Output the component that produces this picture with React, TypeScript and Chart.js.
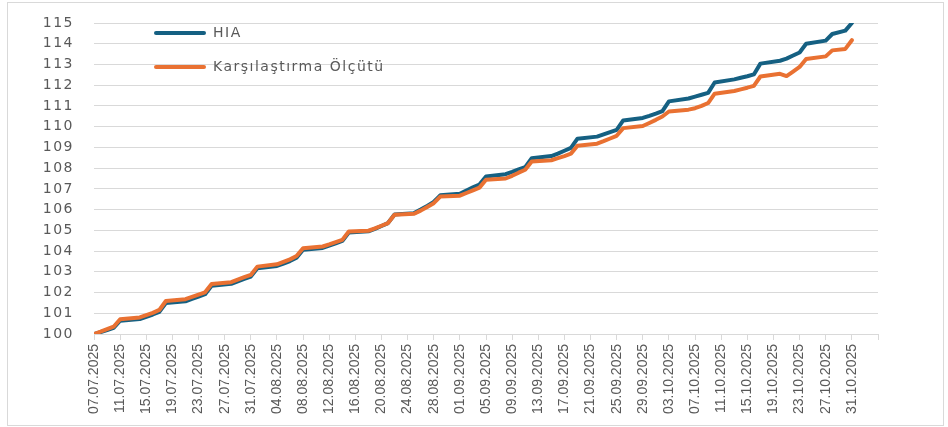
import React, { useEffect, useRef } from 'react';
import { Chart, registerables } from 'chart.js';

Chart.register(...registerables);

const tickLabels = [
  '07.07.2025', '11.07.2025', '15.07.2025', '19.07.2025', '23.07.2025', '27.07.2025',
  '31.07.2025', '04.08.2025', '08.08.2025', '12.08.2025', '16.08.2025', '20.08.2025',
  '24.08.2025', '28.08.2025', '01.09.2025', '05.09.2025', '09.09.2025', '13.09.2025',
  '17.09.2025', '21.09.2025', '25.09.2025', '29.09.2025', '03.10.2025', '07.10.2025',
  '11.10.2025', '15.10.2025', '19.10.2025', '23.10.2025', '27.10.2025', '31.10.2025',
];

const dates = [
  '07.07.2025', '08.07.2025', '09.07.2025', '10.07.2025', '11.07.2025',
  '14.07.2025', '16.07.2025', '17.07.2025', '18.07.2025',
  '21.07.2025', '22.07.2025', '23.07.2025', '24.07.2025', '25.07.2025',
  '28.07.2025', '29.07.2025', '30.07.2025', '31.07.2025', '01.08.2025',
  '04.08.2025', '05.08.2025', '06.08.2025', '07.08.2025', '08.08.2025',
  '11.08.2025', '12.08.2025', '13.08.2025', '14.08.2025', '15.08.2025',
  '18.08.2025', '19.08.2025', '20.08.2025', '21.08.2025', '22.08.2025',
  '25.08.2025', '26.08.2025', '27.08.2025', '28.08.2025', '29.08.2025',
  '01.09.2025', '02.09.2025', '03.09.2025', '04.09.2025', '05.09.2025',
  '08.09.2025', '09.09.2025', '10.09.2025', '11.09.2025', '12.09.2025',
  '15.09.2025', '16.09.2025', '17.09.2025', '18.09.2025', '19.09.2025',
  '22.09.2025', '23.09.2025', '24.09.2025', '25.09.2025', '26.09.2025',
  '29.09.2025', '30.09.2025', '01.10.2025', '02.10.2025', '03.10.2025',
  '06.10.2025', '07.10.2025', '08.10.2025', '09.10.2025', '10.10.2025',
  '13.10.2025', '14.10.2025', '15.10.2025', '16.10.2025', '17.10.2025',
  '20.10.2025', '21.10.2025', '22.10.2025', '23.10.2025', '24.10.2025',
  '27.10.2025', '28.10.2025', '30.10.2025', '31.10.2025',
];

const hiaValues = [
  100.00, 100.09, 100.19, 100.30, 100.64,
  100.72, 100.94, 101.07, 101.49,
  101.58, 101.69, 101.80, 101.92, 102.33,
  102.42, 102.54, 102.66, 102.77, 103.17,
  103.28, 103.40, 103.52, 103.68, 104.06,
  104.15, 104.26, 104.37, 104.49, 104.89,
  104.95, 105.07, 105.21, 105.35, 105.76,
  105.83, 106.00, 106.18, 106.37, 106.69,
  106.76, 106.92, 107.07, 107.21, 107.60,
  107.71, 107.82, 107.94, 108.05, 108.48,
  108.58, 108.70, 108.84, 108.98, 109.42,
  109.52, 109.63, 109.74, 109.85, 110.30,
  110.42, 110.52, 110.63, 110.75, 111.22,
  111.36, 111.45, 111.54, 111.63, 112.13,
  112.28, 112.36, 112.43, 112.52, 113.04,
  113.18, 113.28, 113.43, 113.58, 114.00,
  114.15, 114.47, 114.63, 115.00,
];

const benchmarkValues = [
  100.00, 100.11, 100.23, 100.35, 100.71,
  100.80, 101.02, 101.16, 101.59,
  101.68, 101.79, 101.90, 102.01, 102.41,
  102.50, 102.62, 102.74, 102.85, 103.25,
  103.36, 103.48, 103.60, 103.76, 104.14,
  104.22, 104.32, 104.43, 104.54, 104.94,
  104.98, 105.09, 105.22, 105.35, 105.75,
  105.80, 105.95, 106.13, 106.31, 106.63,
  106.67, 106.80, 106.93, 107.06, 107.44,
  107.50, 107.63, 107.78, 107.92, 108.32,
  108.38, 108.48, 108.58, 108.70, 109.08,
  109.18, 109.30, 109.43, 109.56, 109.93,
  110.03, 110.18, 110.33, 110.49, 110.73,
  110.82, 110.89, 111.00, 111.14, 111.59,
  111.72, 111.80, 111.88, 111.97, 112.42,
  112.55, 112.44, 112.66, 112.88, 113.26,
  113.39, 113.68, 113.75, 114.17,
];

const seriesLabels = ['HIA', 'Karşılaştırma Ölçütü'];
const seriesColors = ['#156082', '#E97132'];
const yMin = 100;
const yMax = 115;
const axisDays = 120;
const tickStepDays = 4;

function dayNumber(s: string): number {
  const [d, m, y] = s.split('.').map(Number);
  return Date.UTC(y, m - 1, d) / 86400000;
}
const baseDay = dayNumber(tickLabels[0]);
const toPoints = (vals: number[]) =>
  dates.map((d, i) => ({ x: dayNumber(d) - baseDay, y: vals[i] }));

const spacingPlugin = {
  id: 'labelSpacing',
  beforeDraw(chart: any) {
    chart.ctx.letterSpacing = '0px';
  },
  afterDatasetsDraw(chart: any) {
    chart.ctx.letterSpacing = '1.5px';
  },
};

const legendPlugin = {
  id: 'insideLegend',
  afterDraw(chart: any) {
    const { ctx, chartArea } = chart;
    ctx.save();
    chart.data.datasets.forEach((ds: any, i: number) => {
      const y = chartArea.top + 10 + i * 34;
      ctx.strokeStyle = ds.borderColor;
      ctx.lineWidth = 4;
      ctx.lineCap = 'round';
      ctx.beginPath();
      ctx.moveTo(chartArea.left + 62, y);
      ctx.lineTo(chartArea.left + 110, y);
      ctx.stroke();
      ctx.font = '14px "DejaVu Sans"';
      ctx.fillStyle = '#595959';
      ctx.textBaseline = 'middle';
      ctx.textAlign = 'left';
      ctx.letterSpacing = '1.5px';
      ctx.fillText(ds.label, chartArea.left + 119, y);
    });
    ctx.restore();
  },
};

export default function App() {
  const canvasRef = useRef<HTMLCanvasElement | null>(null);

  useEffect(() => {
    if (!canvasRef.current) return;
    const chart = new Chart(canvasRef.current, {
      type: 'line',
      data: {
        datasets: [
          {
            label: seriesLabels[0],
            data: toPoints(hiaValues),
            borderColor: seriesColors[0],
            backgroundColor: seriesColors[0],
            borderWidth: 4,
            pointRadius: 0,
            tension: 0,
            borderJoinStyle: 'round',
            borderCapStyle: 'round',
            order: 1,
          },
          {
            label: seriesLabels[1],
            data: toPoints(benchmarkValues),
            borderColor: seriesColors[1],
            backgroundColor: seriesColors[1],
            borderWidth: 4,
            pointRadius: 0,
            tension: 0,
            borderJoinStyle: 'round',
            borderCapStyle: 'round',
            order: 0,
          },
        ],
      },
      options: {
        animation: false,
        responsive: true,
        maintainAspectRatio: false,
        layout: { padding: { left: 0, right: 65, top: 20, bottom: 0 } },
        plugins: {
          legend: { display: false },
          tooltip: { enabled: false },
        },
        scales: {
          x: {
            type: 'linear',
            min: 0,
            max: axisDays,
            afterFit: (s: any) => {
              s.height = 91;
            },
            ticks: {
              stepSize: tickStepDays,
              autoSkip: false,
              minRotation: 90,
              maxRotation: 90,
              padding: 4,
              color: '#595959',
              font: { family: '"Liberation Sans"', size: 14 },
              callback: (v: any) => tickLabels[Math.round(Number(v) / tickStepDays)] ?? '',
            },
            grid: {
              drawOnChartArea: false,
              drawTicks: true,
              tickLength: 6,
              color: '#d9d9d9',
            },
            border: { display: true, color: '#d9d9d9', width: 1 },
          },
          y: {
            min: yMin,
            max: yMax,
            afterFit: (s: any) => {
              s.width = 86;
            },
            ticks: {
              stepSize: 1,
              padding: 11,
              color: '#595959',
              font: { family: '"DejaVu Sans"', size: 14 },
              z: 1,
            },
            grid: {
              color: '#d9d9d9',
              lineWidth: 1,
              drawTicks: true,
              tickLength: 9,
              tickColor: 'rgba(0,0,0,0)',
            },
            border: { display: false },
          },
        },
      },
      plugins: [spacingPlugin, legendPlugin],
    });
    return () => chart.destroy();
  }, []);

  return (
    <div
      style={{
        position: 'absolute',
        left: 7,
        top: 2,
        width: 937,
        height: 424,
        border: '1px solid #d9d9d9',
        boxSizing: 'border-box',
        background: '#fff',
      }}
    >
      <div style={{ position: 'relative', width: '100%', height: '100%' }}>
        <canvas ref={canvasRef} />
      </div>
    </div>
  );
}
